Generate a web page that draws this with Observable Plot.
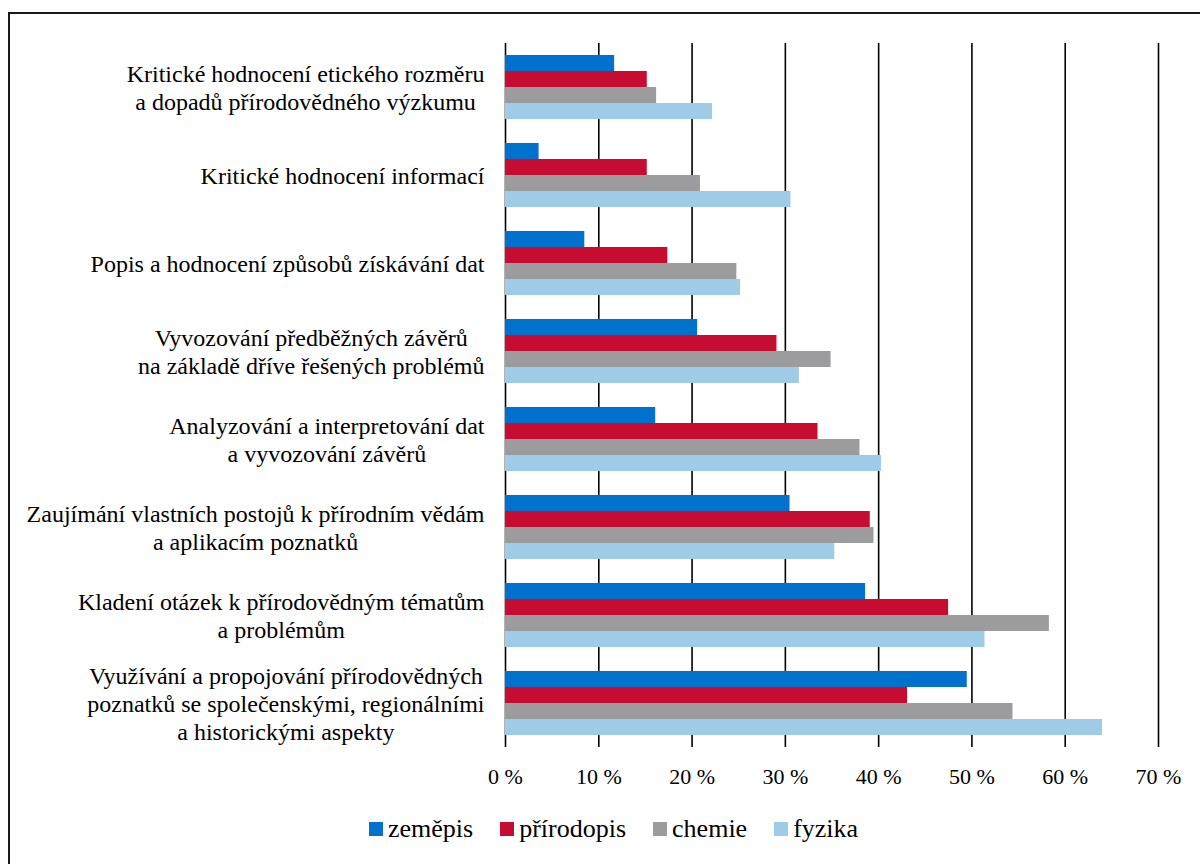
<!DOCTYPE html>
<html>
<head>
<meta charset="utf-8">
<script src="https://cdn.jsdelivr.net/npm/d3@7"></script>
<script src="https://cdn.jsdelivr.net/npm/@observablehq/plot@0.6"></script>
<style>
  html, body { margin: 0; padding: 0; background: #fff; overflow: hidden; width: 1200px; height: 864px; }
  #frame { position: absolute; left: 8px; top: 12px; width: 1400px; height: 1000px;
           border-top: 2px solid #1a1a1a; border-left: 2px solid #1a1a1a; }
  #chart { position: absolute; left: 0; top: 0; }
  #legend { position: absolute; left: 369px; top: 815px; display: flex; align-items: center;
            font-family: "Liberation Serif", "Times New Roman", serif; font-size: 26px; line-height: 28px; color: #000; }
  .item { display: flex; align-items: center; margin-right: 27px; }
  .sw { width: 14px; height: 14px; margin-right: 5px; }
</style>
</head>
<body>
<div id="frame"></div>
<div id="chart"></div>
<div id="legend"></div>
<script>
const categories = [
  "Kritické hodnocení etického rozměru\na dopadů přírodovědného výzkumu",
  "Kritické hodnocení informací",
  "Popis a hodnocení způsobů získávání dat",
  "Vyvozování předběžných závěrů\nna základě dříve řešených problémů",
  "Analyzování a interpretování dat\na vyvozování závěrů",
  "Zaujímání vlastních postojů k přírodním vědám\na aplikacím poznatků",
  "Kladení otázek k přírodovědným tématům\na problémům",
  "Využívání a propojování přírodovědných\npoznatků se společenskými, regionálními\na historickými aspekty"
];
const series = ["zeměpis", "přírodopis", "chemie", "fyzika"];
const colors = ["#0072CE", "#C60C30", "#9C9C9E", "#9ECBE8"];
const zemepis    = [11.7, 3.6, 8.5, 20.6, 16.1, 30.5, 38.6, 49.5];
const prirodopis = [15.2, 15.2, 17.4, 29.1, 33.5, 39.1, 47.5, 43.1];
const chemie     = [16.2, 20.9, 24.8, 34.9, 38.0, 39.5, 58.3, 54.4];
const fyzika     = [22.2, 30.6, 25.2, 31.5, 40.3, 35.3, 51.4, 64.0];
const xTicks = [0, 10, 20, 30, 40, 50, 60, 70];

const seriesValues = [zemepis, prirodopis, chemie, fyzika];
const data = [];
categories.forEach((c, i) => series.forEach((s, j) => data.push({category: c, series: s, value: seriesValues[j][i]})));

const labelFont = 24;
const ctx = document.createElement("canvas").getContext("2d");
ctx.font = labelFont + "px 'Liberation Serif'";
const labelMarks = categories.map(c => {
  const w = Math.max(...c.split("\n").map(l => ctx.measureText(l).width));
  return Plot.text([c], {
    fy: d => d, text: d => d, frameAnchor: "left", textAnchor: "middle", lineAnchor: "middle",
    lineHeight: 28 / labelFont, fontSize: labelFont, fill: "#000", dx: -(21 + w / 2)
  });
});

const chart = Plot.plot({
  width: 1200, height: 800,
  marginLeft: 505, marginRight: 42, marginTop: 43, marginBottom: 53,
  style: {fontFamily: "'Liberation Serif', 'Times New Roman', serif", fontSize: "22px", color: "#000", background: "transparent", overflow: "visible"},
  x: {domain: [0, 70], axis: null},
  y: {domain: series, axis: null, paddingInner: 0, paddingOuter: 0.75},
  fy: {domain: categories, axis: null, padding: 0},
  color: {domain: series, range: colors},
  marks: [
    Plot.ruleX(xTicks, {x: d => d, stroke: "#000", strokeWidth: 1.6}),
    Plot.barX(data, {x: "value", y: "series", fy: "category", fill: "series"}),
    Plot.axisX({ticks: xTicks, tickSize: 0, tickPadding: 21, tickFormat: d => d + " %", fontSize: 22, fill: "#000", label: null}),
    ...labelMarks
  ]
});
document.getElementById("chart").appendChild(chart);

const legend = document.getElementById("legend");
series.forEach((s, i) => {
  const it = document.createElement("div");
  it.className = "item";
  const sw = document.createElement("div");
  sw.className = "sw";
  sw.style.background = colors[i];
  const t = document.createElement("span");
  t.textContent = s;
  it.appendChild(sw); it.appendChild(t);
  legend.appendChild(it);
});
</script>
</body>
</html>
